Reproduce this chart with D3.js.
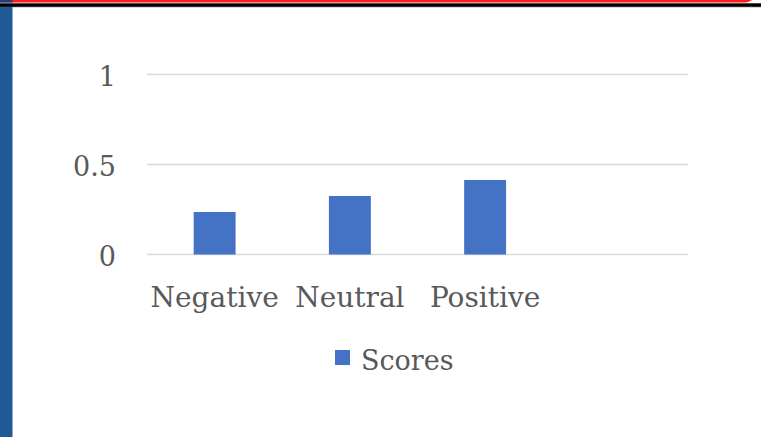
<!DOCTYPE html>
<html>
<head>
<meta charset="utf-8">
<script src="https://cdn.jsdelivr.net/npm/d3@7"></script>
<style>
  html, body { margin: 0; padding: 0; background: #fff; }
  svg { display: block; }
</style>
</head>
<body>
<script>
const categories = ["Negative", "Neutral", "Positive", ""];
const scores = [0.236, 0.325, 0.414, null];
const yTicks = [0, 0.5, 1];
const seriesName = "Scores";

const width = 761, height = 437;
const plot = {left: 147, right: 688, top: 74.5, bottom: 254.5};
const barColor = "#4472C4";
const textColor = "#595959";
const serif = "'DejaVu Serif', serif";

const svg = d3.select("body").append("svg")
    .attr("width", width)
    .attr("height", height);

// slide decoration: top rules and left band
svg.append("rect").attr("x", 0).attr("y", 0).attr("width", 745).attr("height", 2.5).attr("fill", "#FF1A1A");
svg.append("path").attr("d", "M745,0 L752,0 Q748,2.5 745,2.5 Z").attr("fill", "#FF1A1A");
svg.append("rect").attr("x", 0).attr("y", 0).attr("width", 12.5).attr("height", 2.5).attr("fill", "#1B3F7A");
svg.append("rect").attr("x", 0).attr("y", 3.3).attr("width", width).attr("height", 3.6).attr("fill", "#000");
svg.append("rect").attr("x", 12.5).attr("y", 6.9).attr("width", width).attr("height", 0.8).attr("fill", "#c8c8c8");
svg.append("rect").attr("x", 0).attr("y", 6.9).attr("width", 12.5).attr("height", height).attr("fill", "#1F5A96");

const x = d3.scaleBand()
    .domain(categories)
    .range([plot.left, plot.right])
    .paddingInner(0.69)
    .paddingOuter(0.345);

const y = d3.scaleLinear()
    .domain([0, 1])
    .range([plot.bottom, plot.top]);

// gridlines
svg.append("g")
    .selectAll("line")
    .data(yTicks)
    .enter()
    .append("line")
    .attr("x1", plot.left)
    .attr("x2", plot.right)
    .attr("y1", d => y(d))
    .attr("y2", d => y(d))
    .attr("stroke", "#D9D9D9")
    .attr("stroke-width", 1.6);

// y tick labels
let yAxis = svg.append("g")
    .attr("transform", "translate(" + (plot.left - 31) + ",0)")
    .call(d3.axisLeft(y).tickValues(yTicks).tickSize(0).tickPadding(0).tickFormat(d3.format("~g")));
yAxis.select(".domain").remove();
yAxis.selectAll("text")
    .attr("fill", textColor)
    .attr("dy", "0.4em")
    .style("font-family", serif)
    .style("font-size", "27px");

// bars
svg.append("g")
    .selectAll("rect")
    .data(categories.map((c, i) => ({c: c, v: scores[i]})).filter(d => d.v !== null))
    .enter()
    .append("rect")
    .attr("x", d => x(d.c))
    .attr("width", x.bandwidth())
    .attr("y", d => y(d.v))
    .attr("height", d => y(0) - y(d.v))
    .attr("fill", barColor);

// x labels
let xAxis = svg.append("g")
    .attr("transform", "translate(0," + plot.bottom + ")")
    .call(d3.axisBottom(x).tickSize(0).tickPadding(0));
xAxis.select(".domain").remove();
xAxis.selectAll("text")
    .attr("y", 52)
    .attr("dy", 0)
    .attr("fill", textColor)
    .style("font-family", serif)
    .style("font-size", "28px");

// legend
let legend = svg.append("g").attr("transform", "translate(335,350)");
legend.append("rect").attr("width", 15).attr("height", 15).attr("fill", barColor);
legend.append("text")
    .attr("x", 26)
    .attr("y", 20)
    .attr("fill", textColor)
    .style("font-family", serif)
    .style("font-size", "27px")
    .text(seriesName);
</script>
</body>
</html>
